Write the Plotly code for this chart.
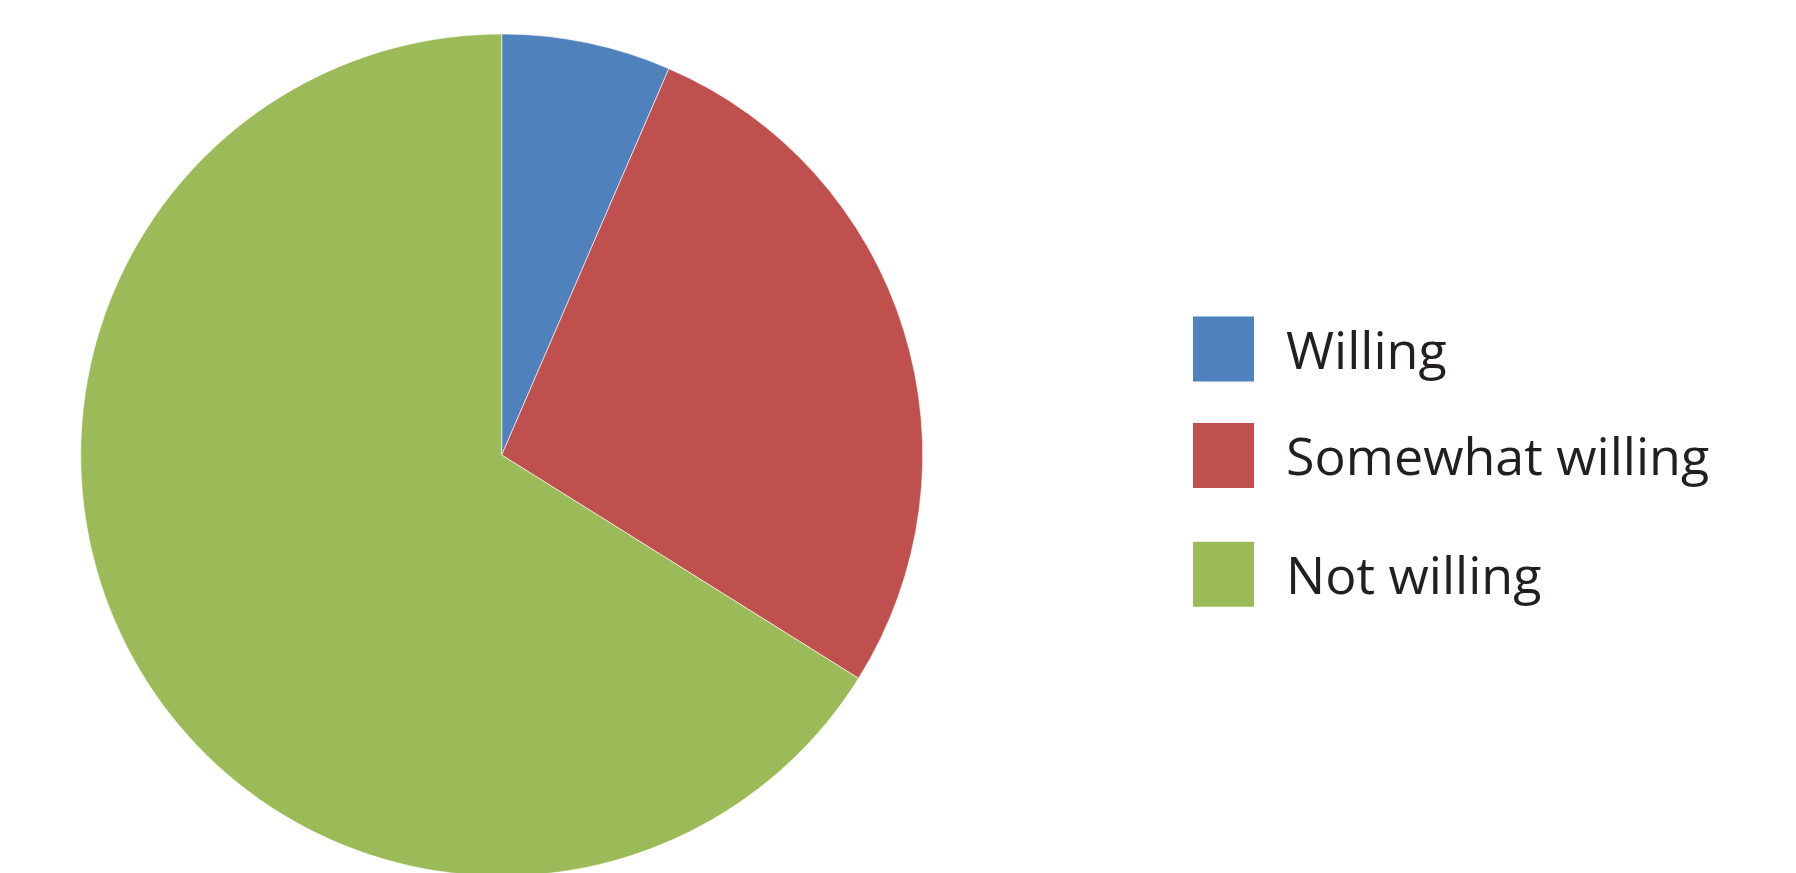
import plotly.graph_objects as go

# ---- data ----
labels = ["Willing", "Somewhat willing", "Not willing"]
values = [6.5, 27.4, 66.1]
colors = ["#4F81BD", "#C0504D", "#9BBB59"]

# ---- layout constants (pixels, figure coords; page body adds 8px offset) ----
W, H = 1788, 868
cx, top = 493.7, 26
r = (H - top) / 2.0
legend_rows_y = [341, 447.5, 566.3]
box_x0, box_x1, box_h = 1185, 1246, 65
text_x = 1276

fig = go.Figure(go.Pie(
    labels=labels,
    values=values,
    marker=dict(colors=colors, line=dict(color="white", width=0.6)),
    sort=False,
    direction="clockwise",
    rotation=0,
    textinfo="none",
    hoverinfo="label+percent",
    showlegend=False,
    domain=dict(x=[(cx - r) / W, (cx + r) / W], y=[0, 1 - top / H]),
))

shapes = []
annotations = []
for lab, col, ry in zip(labels, colors, legend_rows_y):
    shapes.append(dict(type="rect", xref="paper", yref="paper",
                       x0=box_x0 / W, x1=box_x1 / W,
                       y0=1 - (ry + box_h / 2) / H, y1=1 - (ry - box_h / 2) / H,
                       fillcolor=col, line=dict(width=0)))
    annotations.append(dict(xref="paper", yref="paper", x=text_x / W, y=1 - (ry - 1) / H,
                            xanchor="left", yanchor="middle", showarrow=False,
                            text=lab, font=dict(family="Open Sans", size=52, color="#231F20")))

fig.update_layout(
    width=W, height=H,
    margin=dict(l=0, r=0, t=0, b=0),
    paper_bgcolor="white", plot_bgcolor="white",
    shapes=shapes, annotations=annotations,
)

fig.write_html("out.html")
